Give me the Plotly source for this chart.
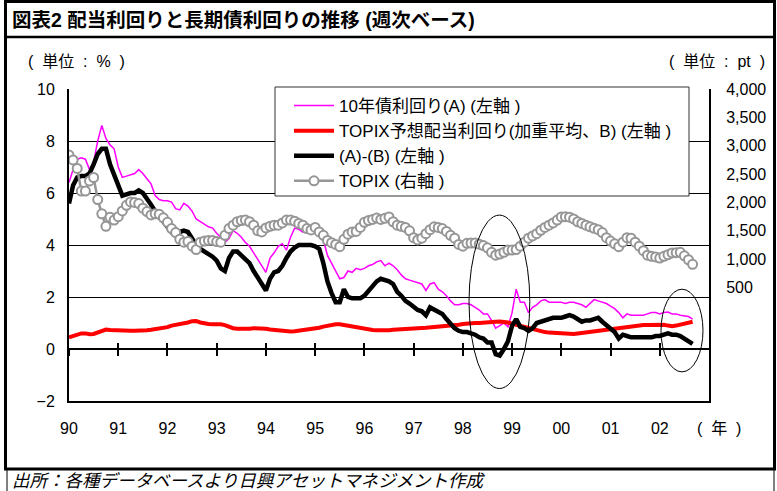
import pandas as pd
import plotly.graph_objects as go

# ---------------- data (monthly readings, Jan 1990 - Sep 2002) ----------------
dates = pd.date_range("1990-01-01", periods=153, freq="MS")
t = list(dates.year + (dates.month - 1) / 12.0)  # decimal year positions

bond_yield_10y = [  # 10年債利回り(A), %
    6.4, 6.9, 7.3, 7.35, 7.3, 6.9, 7.2, 8.0, 8.6, 8.1, 7.85, 7.7,
    7.0, 6.6, 6.65, 6.7, 6.75, 6.9, 6.75, 6.55, 6.35, 5.9, 5.75, 5.7,
    5.7, 5.65, 5.4, 5.35, 5.6, 5.5, 5.3, 5.0, 4.9, 4.8, 4.7, 4.65,
    4.45, 4.3, 4.1, 4.25, 4.55, 4.45, 4.3, 4.1, 3.95, 3.7, 3.45, 3.2,
    2.95, 3.5, 3.7, 3.95, 4.05, 3.8, 4.3, 4.65, 4.6, 4.5, 4.6, 4.65,
    4.6, 4.6, 4.2, 3.6, 3.3, 2.95, 2.7, 2.75, 3.0, 2.95, 3.1, 3.05,
    3.1, 3.2, 3.25, 3.35, 3.4, 3.2, 3.3, 3.2, 3.05, 2.85, 2.7, 2.65,
    2.6, 2.55, 2.5, 2.25, 2.5, 2.55, 2.3, 2.2, 2.05, 1.85, 1.7, 1.7,
    1.75, 1.75, 1.7, 1.6, 1.5, 1.35, 1.35, 1.1, 0.8, 0.9, 1.0, 0.85,
    1.4, 2.3, 1.8, 1.8, 1.4, 1.6, 1.7, 1.85, 1.9, 1.8, 1.8, 1.8,
    1.8, 1.75, 1.8, 1.8, 1.75, 1.7, 1.6, 1.75, 1.9, 1.85, 1.8, 1.75,
    1.65, 1.55, 1.4, 1.2, 1.35, 1.3, 1.3, 1.3, 1.3, 1.35, 1.4, 1.4,
    1.35, 1.4, 1.42, 1.35, 1.35, 1.3, 1.27, 1.25, 1.15,
]

dividend_yield = [  # TOPIX予想配当利回り(B), %
    0.45, 0.5, 0.55, 0.6, 0.6, 0.57, 0.58, 0.65, 0.72, 0.75, 0.73, 0.72,
    0.72, 0.7, 0.68, 0.7, 0.7, 0.7, 0.72, 0.72, 0.74, 0.76, 0.77, 0.8,
    0.84, 0.9, 0.93, 0.95, 0.97, 1.02, 1.07, 1.08, 1.02, 0.98, 0.96, 0.95,
    0.96, 0.95, 0.92, 0.85, 0.8, 0.78, 0.77, 0.78, 0.78, 0.8, 0.8, 0.79,
    0.78, 0.75, 0.73, 0.72, 0.7, 0.68, 0.67, 0.68, 0.7, 0.72, 0.75, 0.78,
    0.8, 0.82, 0.86, 0.9, 0.93, 0.95, 0.95, 0.92, 0.88, 0.86, 0.84, 0.8,
    0.78, 0.76, 0.73, 0.72, 0.71, 0.72, 0.72, 0.74, 0.76, 0.77, 0.77, 0.78,
    0.8, 0.8, 0.81, 0.82, 0.83, 0.84, 0.85, 0.86, 0.87, 0.88, 0.9, 0.93,
    0.96, 0.98, 0.99, 1.0, 1.0, 1.02, 1.04, 1.05, 1.05, 1.06, 1.05, 1.02,
    0.97, 0.93, 0.88, 0.83, 0.8, 0.75, 0.7, 0.67, 0.65, 0.63, 0.62, 0.6,
    0.58, 0.57, 0.57, 0.58, 0.6, 0.62, 0.64, 0.66, 0.68, 0.72, 0.75, 0.77,
    0.78, 0.8, 0.82, 0.84, 0.85, 0.86, 0.88, 0.9, 0.92, 0.92, 0.93, 0.94,
    0.95, 0.93, 0.9, 0.88, 0.9, 0.93, 0.96, 1.0, 1.05,
]

yield_spread = [  # (A)-(B), %
    5.6, 6.3, 6.6, 6.65, 6.65, 6.75, 7.1, 7.5, 7.7, 7.7, 7.1, 6.7,
    6.2, 5.9, 5.95, 6.0, 6.0, 6.1, 6.0, 5.8, 5.55, 5.3, 5.1, 4.9,
    4.65, 4.5, 4.6, 4.5, 4.55, 4.5, 4.25, 4.0, 3.85, 3.75, 3.7, 3.55,
    3.4, 3.1, 3.0, 3.5, 3.75, 3.75, 3.6, 3.45, 3.3, 3.0, 2.75, 2.5,
    2.25, 2.7, 2.95, 3.0, 3.2, 3.5, 3.75, 3.9, 4.0, 4.0, 4.0, 4.0,
    3.95, 3.85, 3.3, 2.6, 2.15, 1.8, 1.8, 2.3, 2.0, 1.95, 1.95, 1.95,
    2.05, 2.25, 2.4, 2.6, 2.7, 2.65, 2.6, 2.5, 2.2, 2.05, 1.85, 1.75,
    1.6, 1.5, 1.45, 1.3, 1.6, 1.5, 1.4, 1.35, 1.15, 0.95, 0.8, 0.7,
    0.65, 0.65, 0.6, 0.55, 0.45, 0.4, 0.25, 0.25, -0.2, -0.25, 0.0, 0.3,
    0.9, 1.15, 0.85, 0.8, 0.7, 0.8, 1.0, 1.05, 1.1, 1.15, 1.2, 1.2,
    1.2, 1.25, 1.3, 1.25, 1.15, 1.05, 1.1, 1.1, 1.15, 1.2, 1.05, 0.9,
    0.8, 0.65, 0.4, 0.55, 0.5, 0.45, 0.45, 0.45, 0.45, 0.45, 0.45, 0.5,
    0.5, 0.55, 0.6, 0.55, 0.55, 0.5, 0.4, 0.3, 0.2,
]

topix = [  # TOPIX, pt
    2836, 2750, 2600, 2200, 2200, 2380, 2440, 2050, 1800, 1580, 1740, 1690,
    1750, 1850, 1950, 2010, 2000, 1980, 1900, 1840, 1780, 1800, 1790, 1730,
    1650, 1540, 1470, 1350, 1300, 1310, 1230, 1170, 1300, 1320, 1330, 1330,
    1310, 1300, 1420, 1540, 1600, 1660, 1680, 1690, 1660, 1600, 1500, 1480,
    1550, 1580, 1600, 1600, 1640, 1690, 1690, 1670, 1630, 1600, 1540, 1515,
    1560, 1480, 1420, 1330, 1290, 1260, 1220, 1350, 1440, 1480, 1490, 1560,
    1650, 1680, 1700, 1725, 1700, 1720, 1745, 1660, 1600, 1580, 1560, 1500,
    1380, 1340, 1370, 1450, 1520, 1570, 1560, 1540, 1490, 1420, 1370, 1260,
    1230, 1280, 1285, 1285, 1265, 1240, 1200, 1120, 1070, 1090, 1120, 1160,
    1160, 1170, 1230, 1300, 1370, 1410, 1450, 1510, 1560, 1600, 1640, 1690,
    1745, 1750, 1740, 1710, 1660, 1630, 1600, 1570, 1545, 1520, 1470, 1380,
    1320, 1270, 1220, 1300, 1380, 1370, 1300, 1230, 1150, 1070, 1050, 1040,
    1020, 1050, 1080, 1110, 1115, 1120, 1060, 990, 910,
]

year_ticks = list(range(1990, 2003))
year_labels = ["90", "91", "92", "93", "94", "95", "96", "97", "98", "99", "00", "01", "02"]
right_ticks = [500, 1000, 1500, 2000, 2500, 3000, 3500, 4000]

series_names = [
    "10年債利回り(A) (左軸 )",
    "TOPIX予想配当利回り(加重平均、B) (左軸 )",
    "(A)-(B) (左軸 )",
    "TOPIX (右軸 )",
]

# ---------------- figure ----------------
W, H = 777, 491
ML, MR, MT, MB = 69, 68, 89, 90
PW, PH = W - ML - MR, H - MT - MB
FONT = "Liberation Sans, Arial, Noto Sans CJK JP, sans-serif"
NB = "\u00a0"


def px(xp):
    return (xp - ML) / PW


def py(yp):
    return (H - MB - yp) / PH


fig = go.Figure()
fig.add_trace(go.Scatter(x=t, y=bond_yield_10y, name=series_names[0], mode="lines",
                         line=dict(color="#FF00FF", width=1.5), legendgroup="a"))
fig.add_trace(go.Scatter(x=t, y=dividend_yield, name=series_names[1], mode="lines",
                         line=dict(color="#FF0000", width=4), legendgroup="b"))
fig.add_trace(go.Scatter(x=t, y=yield_spread, name=series_names[2], mode="lines",
                         line=dict(color="#000000", width=4.5), legendgroup="c"))
fig.add_trace(go.Scatter(x=t, y=topix, name=series_names[3], mode="lines+markers", yaxis="y2",
                         line=dict(color="#969696", width=2.5),
                         marker=dict(symbol="circle", size=9, color="white",
                                     line=dict(color="#969696", width=2)),
                         legendgroup="d"))
# helper traces so the zero-line tick axes are drawn
for ax in ("x2", "x3"):
    fig.add_trace(go.Scatter(x=[1990], y=[None], xaxis=ax, yaxis="y",
                             showlegend=False, hoverinfo="skip", mode="lines"))

xrange = [1990, 2003]
tick_axis = dict(range=xrange, overlaying="x", anchor="free", position=2 / 12,
                 tickmode="array", tickvals=year_ticks, showticklabels=False,
                 showline=False, showgrid=False, zeroline=False,
                 ticklen=6, tickwidth=2, tickcolor="black")

fig.update_layout(
    width=W, height=H,
    margin=dict(l=ML, r=MR, t=MT, b=MB, autoexpand=False),
    paper_bgcolor="white", plot_bgcolor="white",
    font=dict(family=FONT, size=16, color="black"),
    showlegend=True,
    legend=dict(x=px(289), y=py(88), xanchor="left", yanchor="top",
                bgcolor="rgba(255,255,255,0)", borderwidth=0,
                font=dict(family=FONT, size=17, color="black"),
                tracegroupgap=6, traceorder="normal", itemwidth=40),
    xaxis=dict(range=xrange, tickmode="array", tickvals=year_ticks, ticktext=year_labels,
               showline=True, linecolor="black", linewidth=2,
               ticks="outside", ticklen=12, tickcolor="rgba(0,0,0,0)",
               showgrid=False, zeroline=False, tickfont=dict(size=16)),
    xaxis2=dict(tick_axis, ticks="outside"),
    xaxis3=dict(tick_axis, ticks="inside"),
    yaxis=dict(range=[-2, 10], tick0=0, dtick=2, showgrid=True, gridcolor="black", gridwidth=1,
               zeroline=True, zerolinecolor="black", zerolinewidth=2,
               showline=True, linecolor="black", linewidth=2,
               ticks="outside", ticklen=9, tickcolor="rgba(0,0,0,0)", tickfont=dict(size=16)),
    yaxis2=dict(range=[-1500, 4000], overlaying="y", side="right", tickmode="array",
                tickvals=right_ticks, tickformat=",", showgrid=False, zeroline=False,
                showline=True, linecolor="black", linewidth=2,
                ticks="outside", ticklen=12, tickcolor="rgba(0,0,0,0)", tickfont=dict(size=16)),
)

# legend box
fig.add_shape(type="rect", xref="paper", yref="paper", x0=px(275), x1=px(689),
              y0=py(196), y1=py(87), line=dict(color="#333333", width=1),
              fillcolor="white", layer="above")

# highlight ellipses
fig.add_shape(type="circle", xref="x", yref="y", x0=1998.125, x1=1999.36,
              y0=-1.52, y1=5.15, line=dict(color="black", width=1))
fig.add_shape(type="circle", xref="x", yref="y", x0=2002.025, x1=2002.878,
              y0=-0.88, y1=2.3, line=dict(color="black", width=1))

# frame
fig.add_shape(type="rect", xref="paper", yref="paper", x0=px(5.5), x1=px(774.5),
              y0=py(469), y1=py(1.5), line=dict(color="black", width=3), layer="above")
fig.add_shape(type="line", xref="paper", yref="paper", x0=px(5.5), x1=px(774.5),
              y0=py(37), y1=py(37), line=dict(color="black", width=2.5))
fig.add_shape(type="line", xref="paper", yref="paper", x0=px(7), x1=px(7),
              y0=py(469), y1=py(491), line=dict(color="black", width=1))
fig.add_shape(type="line", xref="paper", yref="paper", x0=px(774), x1=px(774),
              y0=py(469), y1=py(491), line=dict(color="black", width=1))

# texts
fig.add_annotation(text="<b>図表2 配当利回りと長期債利回りの推移 (週次ベース)</b>", xref="paper", yref="paper",
                   x=px(10), y=py(20), xanchor="left", yanchor="middle", showarrow=False,
                   font=dict(family=FONT, size=19.5, color="black"))
fig.add_annotation(text=f"({NB}{NB}単位{NB}{NB}:{NB}{NB}%{NB}{NB})", xref="paper", yref="paper",
                   x=px(76), y=py(61), xanchor="center", yanchor="middle", showarrow=False,
                   font=dict(size=16))
fig.add_annotation(text=f"({NB}{NB}単位{NB}{NB}:{NB}{NB}pt{NB}{NB})", xref="paper", yref="paper",
                   x=px(717), y=py(61), xanchor="center", yanchor="middle", showarrow=False,
                   font=dict(size=16))
fig.add_annotation(text=f"({NB}{NB}年{NB}{NB})", xref="paper", yref="paper", x=px(719), y=py(428),
                   xanchor="center", yanchor="middle", showarrow=False, font=dict(size=16))
fig.add_annotation(text="<i>出所：各種データベースより日興アセットマネジメント作成</i>", xref="paper", yref="paper",
                   x=px(10), y=py(481), xanchor="left", yanchor="middle", showarrow=False,
                   font=dict(family=FONT, size=17.5, color="black"))

fig.write_html("out.html", config={"displayModeBar": False},
               post_script="document.body.style.margin='0';document.body.style.overflow='hidden';")
